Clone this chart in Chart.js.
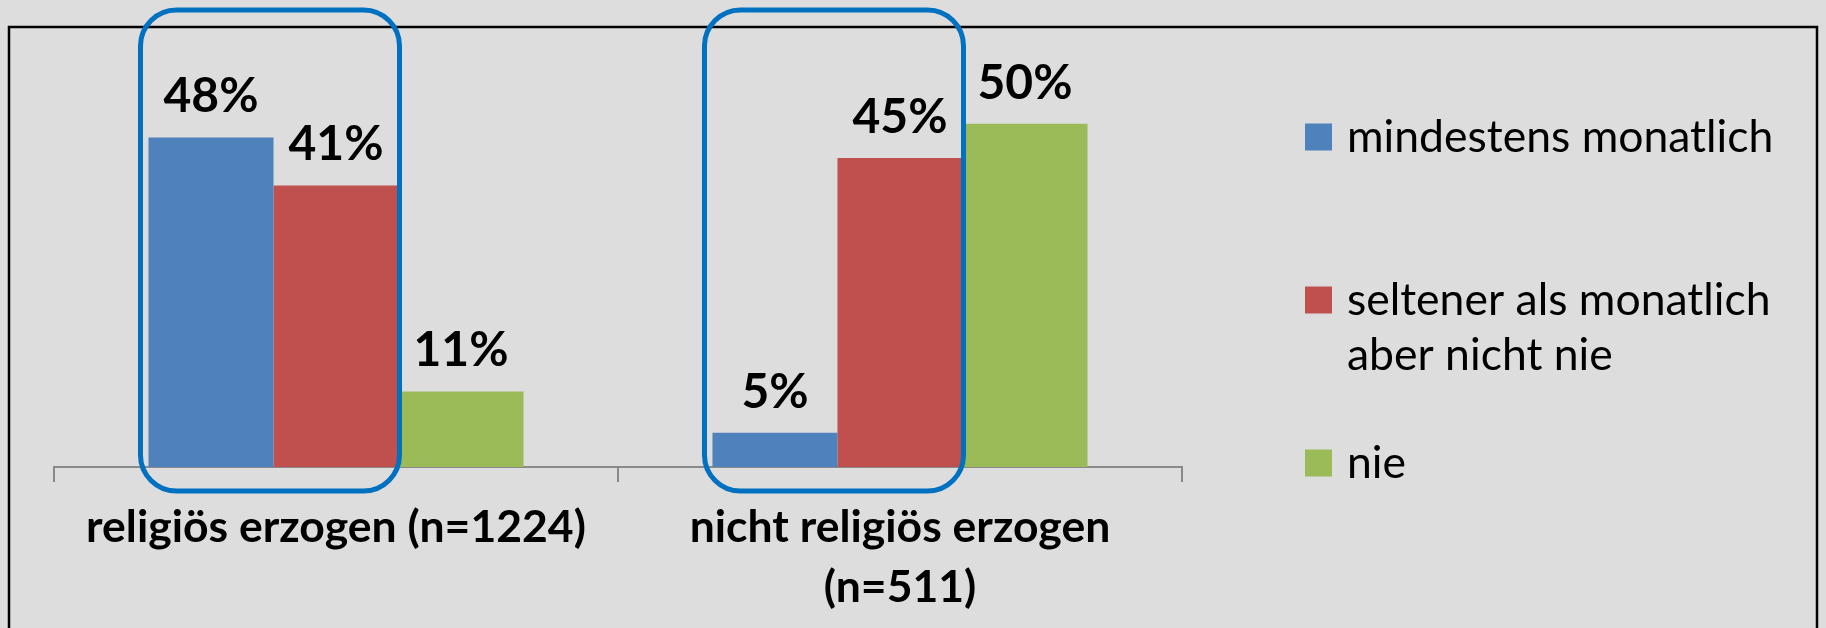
<!DOCTYPE html>
<html lang="de">
<head>
<meta charset="utf-8">
<title>Gottesdienstbesuch nach religiöser Erziehung</title>
<script src="https://cdn.jsdelivr.net/npm/chart.js@4.4.1/dist/chart.umd.min.js"></script>
<style>
  html, body { margin: 0; padding: 0; background: #dddddd; }
  canvas { display: block; }
</style>
</head>
<body>
<canvas id="chartKirchgang" width="1826" height="628"></canvas>
<script>
// categories (multi-line labels as arrays)
const categories = [["religiös erzogen (n=1224)"], ["nicht religiös erzogen", "(n=511)"]];
const seriesNames = [["mindestens monatlich"], ["seltener als monatlich", "aber nicht nie"], ["nie"]];

// values in percent
const monthly = [48, 5];
const lessThanMonthly = [41, 45];
const never = [11, 50];

const seriesColors = ["#4F81BD", "#C0504D", "#9BBB59"];

// categories where the first two series get the blue rounded frame
const framedCategories = [0, 1];

// grey page + black outer frame
const backdrop = {
    id: "backdrop",
    beforeDraw(chart) {
        const ctx = chart.ctx;
        ctx.save();
        ctx.fillStyle = "#dddddd";
        ctx.fillRect(0, 0, chart.width, chart.height);
        ctx.strokeStyle = "#000";
        ctx.lineWidth = 2.5;
        ctx.strokeRect(9, 27, chart.width - 18, chart.height + 20);
        ctx.restore();
    }
};

// rounded boxes around blue + red bars
const frameBoxes = {
    id: "frameBoxes",
    afterDatasetsDraw(chart) {
        const ctx = chart.ctx;
        const first = chart.getDatasetMeta(0).data;
        const second = chart.getDatasetMeta(1).data;
        ctx.save();
        ctx.strokeStyle = "#0070C0";
        ctx.lineWidth = 5;
        framedCategories.forEach(i => {
            const left = first[i].x - first[i].width / 2 - 8;
            const right = second[i].x + second[i].width / 2 + 1;
            const top = 10;
            const bottom = chart.chartArea.bottom + 24;
            ctx.beginPath();
            ctx.roundRect(left, top, right - left, bottom - top, 36);
            ctx.stroke();
        });
        ctx.restore();
    }
};

// percent labels above each bar
const valueLabels = {
    id: "valueLabels",
    afterDatasetsDraw(chart) {
        const ctx = chart.ctx;
        ctx.save();
        ctx.fillStyle = "#000";
        ctx.font = "bold 48px Lato";
        ctx.textAlign = "center";
        ctx.textBaseline = "alphabetic";
        chart.data.datasets.forEach((ds, d) => {
            chart.getDatasetMeta(d).data.forEach((bar, i) => {
                ctx.fillText(ds.data[i] + "%", bar.x, bar.y - 25);
            });
        });
        ctx.restore();
    }
};

// legend on the right, one square per series
const sideLegend = {
    id: "sideLegend",
    afterDraw(chart) {
        const ctx = chart.ctx;
        const x = chart.chartArea.right + 123;
        let y = 137;
        ctx.save();
        ctx.font = "44.5px Lato";
        ctx.textBaseline = "alphabetic";
        chart.data.datasets.forEach((ds, d) => {
            ctx.fillStyle = ds.backgroundColor;
            ctx.fillRect(x, y - 13.5, 27, 27);
            ctx.fillStyle = "#000";
            seriesNames[d].forEach((line, k) => {
                ctx.fillText(line, x + 42, y + 15 + k * 55);
            });
            y += 163;
        });
        ctx.restore();
    }
};

new Chart(document.getElementById("chartKirchgang"), {
    type: "bar",
    data: {
        labels: categories,
        datasets: [
            { label: seriesNames[0].join(" "), data: monthly, backgroundColor: seriesColors[0] },
            { label: seriesNames[1].join(" "), data: lessThanMonthly, backgroundColor: seriesColors[1] },
            { label: seriesNames[2].join(" "), data: never, backgroundColor: seriesColors[2] }
        ]
    },
    options: {
        responsive: false,
        animation: false,
        layout: { padding: { left: 54, right: 644, top: 55, bottom: 0 } },
        datasets: { bar: { categoryPercentage: 0.665, barPercentage: 1 } },
        plugins: { legend: { display: false }, tooltip: { enabled: false } },
        scales: {
            y: { display: false, min: 0, max: 60 },
            x: {
                afterFit(scale) { scale.height = 161; },
                grid: { drawOnChartArea: false, color: "#898989", lineWidth: 2, tickLength: 15, offset: true },
                border: { color: "#898989", width: 2 },
                ticks: {
                    color: "#000",
                    padding: 16,
                    font: { family: "Lato", size: 44.5, weight: "bold", lineHeight: 1.34 }
                }
            }
        }
    },
    plugins: [backdrop, frameBoxes, valueLabels, sideLegend]
});
</script>
</body>
</html>
